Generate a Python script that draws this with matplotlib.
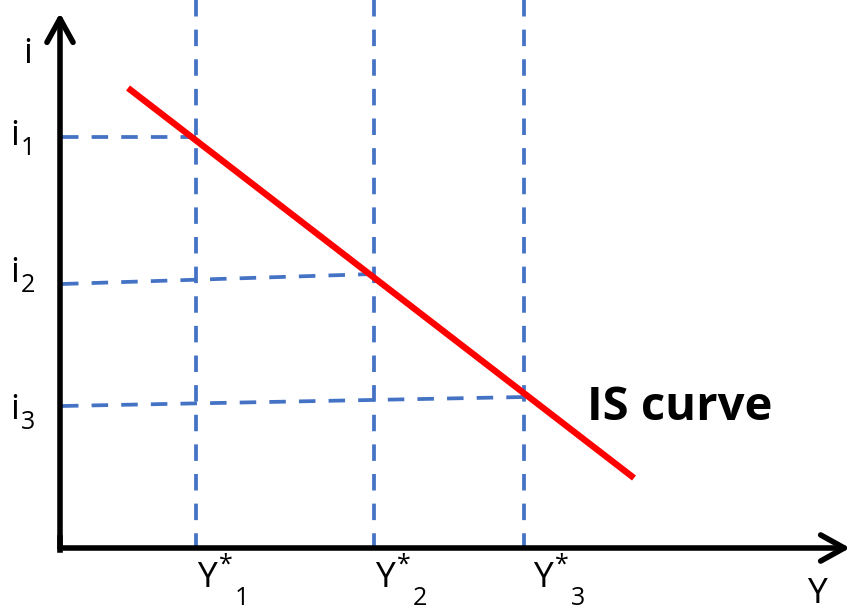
import matplotlib
matplotlib.use("Agg")
import matplotlib.pyplot as plt
from matplotlib.patches import FancyArrowPatch, ArrowStyle

# ---- data (origin at the axes corner, units ~ pixels) ----
y_star = [136, 314, 464]          # Y*1, Y*2, Y*3 on horizontal axis
i_at_axis = [411, 264, 142]       # i1, i2, i3 where dashed line meets vertical axis
i_at_curve = [411, 274, 151]      # height where dashed line meets the Y* line
is_x = [68, 574]                  # IS curve end points
is_y = [460, 70]
subs = ["1", "2", "3"]
curve_label = "IS curve"

plt.rcParams['font.family'] = ['Open Sans', 'DejaVu Sans']

fig = plt.figure(figsize=(8.53, 6.10), dpi=100)
ax = fig.add_axes([0, 0, 1, 1])
ax.set_xlim(-60, 793)
ax.set_ylim(-62, 548)
ax.axis('off')

blue = '#4472C4'
dash_lw = 2.7
dashes = (4.4, 3.5)

# vertical dashed lines
for x in y_star:
    ln, = ax.plot([x, x], [548, 0], color=blue, lw=dash_lw, zorder=1)
    ln.set_dashes(dashes)
    ln.set_dash_capstyle('butt')

# horizontal dashed lines
for x, y0, y1 in zip(y_star, i_at_axis, i_at_curve):
    ln, = ax.plot([2, x], [y0, y1], color=blue, lw=dash_lw, zorder=1)
    ln.set_dashes(dashes)
    ln.set_dash_capstyle('butt')

# IS curve
ax.plot(is_x, is_y, color='#FF0000', lw=4.6, solid_capstyle='butt', zorder=2)

# axes with arrows
style = ArrowStyle('->', head_length=17, head_width=9.4)
for posA, posB in [((0, 0), (0, 535)), ((0, 0), (790, 0))]:
    arr = FancyArrowPatch(posA, posB, arrowstyle=style, mutation_scale=1,
                          lw=4.0, color='black', capstyle='round',
                          joinstyle='round', shrinkA=0, shrinkB=0, zorder=3)
    ax.add_patch(arr)
ax.plot([0, 0], [-2, 10], color='black', lw=4.0, solid_capstyle='projecting', zorder=3)

main_fs = 25.5
sub_fs = 18

# axis names
ax.text(-32, 485, "i", fontsize=main_fs, ha='center', va='baseline')
ax.text(757, -55, "Y", fontsize=main_fs, ha='center', va='baseline')

# i labels
i_label_x = -45
i_baselines = [403, 266, 129]
for s, yb in zip(subs, i_baselines):
    ax.text(i_label_x, yb, "i", fontsize=main_fs, ha='center', va='baseline')
    ax.text(i_label_x + 13, yb - 10, s, fontsize=sub_fs, ha='center', va='baseline')

# Y* labels
y_label_x = [146.5, 325, 483]
for s, xc in zip(subs, y_label_x):
    ax.text(xc, -39, "Y", fontsize=main_fs, ha='center', va='baseline')
    ax.text(xc + 19, -24, "*", fontsize=sub_fs, ha='center', va='baseline')
    ax.text(xc + 35, -57, s, fontsize=sub_fs, ha='center', va='baseline')

# IS curve label
ax.text(527, 128, curve_label, fontsize=34, fontweight='bold', ha='left', va='baseline')

fig.savefig("out.png", dpi=100)
